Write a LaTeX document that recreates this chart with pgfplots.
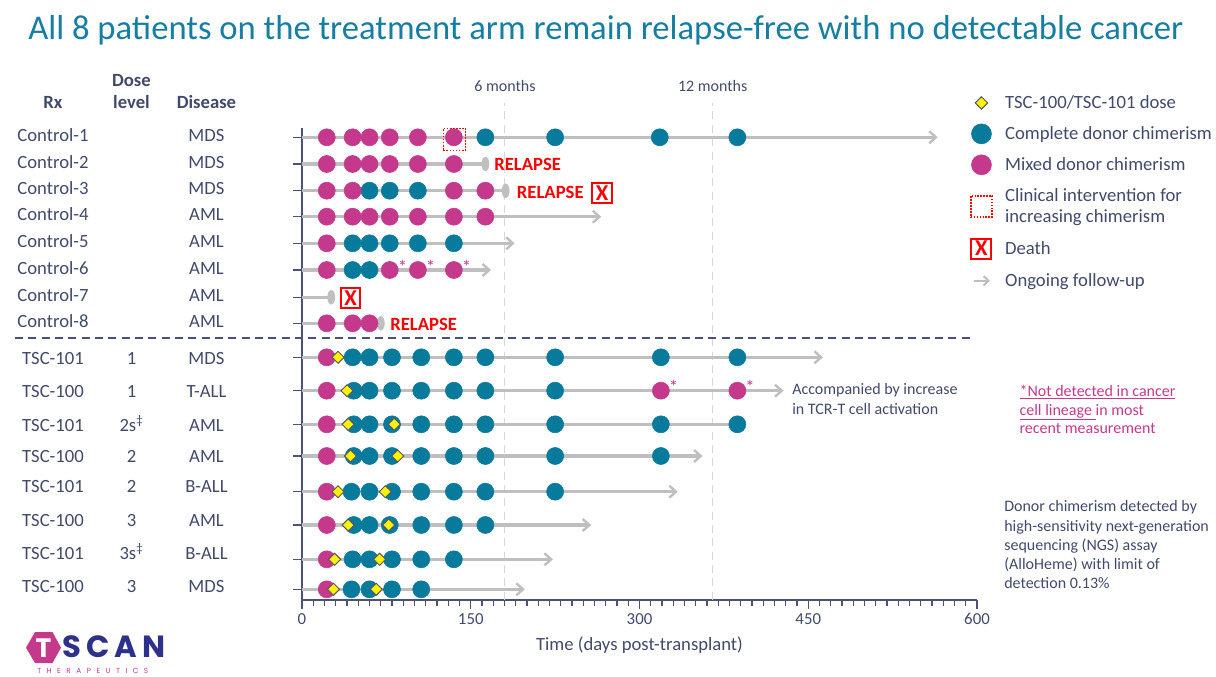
\documentclass[border=0pt]{standalone}
\usepackage{fontspec}
\setmainfont{Carlito}
\newfontfamily\logofont{Poppins}
\usepackage{pgfplots}
\pgfplotsset{compat=1.18}
\usetikzlibrary{arrows.meta}
\definecolor{tealc}{RGB}{8,122,156}
\definecolor{magc}{RGB}{196,57,139}
\definecolor{titlec}{RGB}{22,125,163}
\definecolor{textc}{RGB}{64,74,107}
\definecolor{axisc}{RGB}{76,82,115}
\definecolor{greyl}{RGB}{191,191,191}
\definecolor{dashg}{RGB}{215,215,215}
\definecolor{navyc}{RGB}{46,49,138}
\definecolor{diamd}{RGB}{85,85,105}
\newcommand\fbody{\fontsize{14pt}{16pt}\selectfont}
\newcommand\fsmall{\fontsize{12pt}{14.5pt}\selectfont}
\begin{document}
\color{textc}
\begin{tikzpicture}[x=0.75pt,y=-0.75pt]
\useasboundingbox (0,0) rectangle (1216,677);
\begin{axis}[
  at={(226.5pt,-449.625pt)}, anchor=south west,
  scale only axis, width=506.25pt, height=353.625pt,
  xmin=0, xmax=600, ymin=77.5, ymax=549,
  axis lines=left, axis line style={-, draw=axisc, line width=1.5pt},
  clip=false,
  xtick={0,150,300,450,600}, minor x tick num=14,
  ytick={539.7,513,486.3,460.3,433.7,407,379.7,353.7,319.7,286.3,252.7,221,185.3,152,117.7,87.7},
  yticklabels={},
  tick align=outside,
  major tick length=6.75pt, minor tick length=4.5pt,
  every tick/.style={draw=axisc, line width=1.1pt},
  tick label style={font=\fontsize{12.6pt}{14pt}\selectfont, text=textc},
  /pgf/number format/assume math mode=true,
  xlabel={Time (days post-transplant)},
  xlabel style={font=\fbody, text=textc, yshift=-2pt},
  legend cell align=left,
  legend style={at={(axis description cs:0.984,1.081)}, anchor=north west,
    draw=none, fill=none, font=\fbody, text=textc, row sep=8pt,
    cells={align=left}, nodes={inner ysep=2pt, inner xsep=9.5pt}},
]
% ---- legend ----
\addlegendimage{only marks, mark=square*, mark size=3.3pt, mark options={rotate=45, fill=yellow, draw=diamd, line width=0.7pt}}
\addlegendentry{TSC-100/TSC-101 dose}
\addlegendimage{only marks, mark=*, mark size=7.5pt, color=tealc}
\addlegendentry{Complete donor chimerism}
\addlegendimage{only marks, mark=*, mark size=7.5pt, color=magc}
\addlegendentry{Mixed donor chimerism}
\addlegendimage{only marks, mark=square, mark size=8pt, mark options={draw=red, line width=1.2pt, densely dotted}}
\addlegendentry{Clinical intervention for\\increasing chimerism}
\addlegendimage{legend image code/.code={\node[anchor=center, draw=red, fill=white, line width=1.5pt, text=red, font=\bfseries\fontsize{17pt}{17pt}\selectfont, inner sep=0pt, minimum size=15pt] at (0.3cm,0cm) {X};}}
\addlegendentry{Death}
\addlegendimage{legend image code/.code={\draw[greyl, line width=1.6pt, -{Straight Barb[length=3.5pt,width=7pt]}] (0.1cm,0cm) -- (0.52cm,0cm);}}
\addlegendentry{Ongoing follow-up}

% ---- reference lines ----
\addplot[forget plot, dashg, line width=1.2pt, dash pattern=on 6pt off 4pt] coordinates {(180,77.5) (180,574)};
\addplot[forget plot, dashg, line width=1.2pt, dash pattern=on 6pt off 4pt] coordinates {(365,77.5) (365,574)};
\addplot[forget plot, axisc, line width=1.3pt, dash pattern=on 6pt off 4pt] coordinates {(-255,339) (598,339)};

% ---- follow-up lines ----
\pgfplotsset{fu/.style={forget plot, greyl, line width=2.5pt, -{Straight Barb[length=5pt,width=9pt,line width=1.8pt]}},
             fl/.style={forget plot, greyl, line width=2.5pt}}
\addplot[fu] coordinates {(0,539.7) (565,539.7)};
\addplot[fl] coordinates {(0,513) (163,513)};
\addplot[fl] coordinates {(0,486.3) (181,486.3)};
\addplot[fu] coordinates {(0,460.3) (266,460.3)};
\addplot[fu] coordinates {(0,433.7) (189,433.7)};
\addplot[fu] coordinates {(0,407) (168,407)};
\addplot[fl] coordinates {(0,379.7) (26,379.7)};
\addplot[fl] coordinates {(0,353.7) (70,353.7)};
\addplot[fu] coordinates {(0,319.7) (463,319.7)};
\addplot[fu] coordinates {(0,286.3) (428,286.3)};
\addplot[fl] coordinates {(0,252.7) (387,252.7)};
\addplot[fu] coordinates {(0,221) (356,221)};
\addplot[fu] coordinates {(0,185.3) (334,185.3)};
\addplot[fu] coordinates {(0,152) (257,152)};
\addplot[fu] coordinates {(0,117.7) (223,117.7)};
\addplot[fu] coordinates {(0,87.7) (198,87.7)};

% ---- end-of-follow-up ovals ----
\addplot[forget plot, only marks, mark=*, mark size=5.2pt, color=greyl, mark options={xscale=0.52}] table {
x y
163 513
181 486.3
26 379.7
70 353.7
};

% ---- complete donor chimerism ----
\addplot[forget plot, only marks, mark=*, mark size=6.4pt, color=tealc] table {
x y
163 539.7
225 539.7
318 539.7
387 539.7
60 486.3
78 486.3
103 486.3
45 433.7
60 433.7
78 433.7
103 433.7
135 433.7
45 407
60 407
45 319.7
60 319.7
80 319.7
106 319.7
135 319.7
163 319.7
225 319.7
319 319.7
387 319.7
46 286.3
60 286.3
80 286.3
106 286.3
135 286.3
163 286.3
225 286.3
46 252.7
60 252.7
80 252.7
106 252.7
135 252.7
163 252.7
225 252.7
319 252.7
387 252.7
46 221
60 221
80 221
106 221
135 221
163 221
225 221
319 221
44 185.3
60 185.3
80 185.3
106 185.3
135 185.3
163 185.3
225 185.3
46 152
60 152
78 152
106 152
135 152
163 152
45 117.7
60 117.7
80 117.7
106 117.7
135 117.7
44 87.7
60 87.7
80 87.7
106 87.7
};

% ---- mixed donor chimerism ----
\addplot[forget plot, only marks, mark=*, mark size=6.4pt, color=magc] table {
x y
22 539.7
45 539.7
60 539.7
78 539.7
103 539.7
135 539.7
22 513
45 513
60 513
78 513
103 513
135 513
22 486.3
45 486.3
135 486.3
163 486.3
22 460.3
45 460.3
60 460.3
78 460.3
103 460.3
135 460.3
163 460.3
22 433.7
22 407
78 407
103 407
135 407
22 353.7
45 353.7
60 353.7
22 319.7
22 286.3
319 286.3
387 286.3
22 252.7
22 221
22 185.3
22 152
22 117.7
22 87.7
};

% ---- doses ----
\addplot[forget plot, only marks, mark=square*, mark size=3.2pt, mark options={rotate=45, fill=yellow, draw=diamd, line width=0.7pt}] table {
x y
32 319.7
40 286.3
41 252.7
82 252.7
43 221
85 221
32 185.3
74 185.3
41 152
77 152
29 117.7
69 117.7
28 87.7
66 87.7
};

% ---- not detected in cancer lineage ----
\addplot[forget plot, only marks, mark=none, nodes near coords={*}, nodes near coords align={center},
  every node near coord/.append style={xshift=9.5pt, yshift=2.5pt, text=magc, inner sep=0pt, font=\fontsize{14pt}{14pt}\selectfont}] table {
x y
78 407
103 407
135 407
319 286.3
387 286.3
};

% ---- clinical intervention ----
\addplot[forget plot, only marks, mark=square, mark size=8.3pt, mark options={draw=red, line width=1.3pt, densely dotted}] coordinates {(135.5,537.5)};

% ---- death ----
\addplot[forget plot, only marks, mark=none, nodes near coords={X}, nodes near coords align={center},
  every node near coord/.append style={draw=red, fill=white, line width=1.5pt, text=red, inner sep=0pt, minimum size=14.5pt, font=\bfseries\fontsize{17pt}{17pt}\selectfont}] coordinates {(266.7,484) (43.1,379)};
\end{axis}

% ---- title ----
\node[anchor=base west, inner sep=0pt, text=titlec, font=\fontsize{26pt}{30pt}\selectfont] at (28,40) {All 8 patients on the treatment arm remain relapse-free with no detectable cancer};

% ---- headers ----
\begin{scope}[every node/.style={inner sep=0pt, anchor=base, font=\bfseries\fbody, text=textc}]
\node at (53,108.5) {Rx};
\node at (131.5,86.5) {Dose};
\node at (131.5,108.5) {level};
\node at (206.5,108.5) {Disease};
\end{scope}

% ---- row labels ----
\begin{scope}[every node/.style={inner sep=0pt, anchor=base, font=\fbody, text=textc}]
\node at (53,141.7) {Control-1}; \node at (206.5,141.7) {MDS};
\node at (53,168.3) {Control-2}; \node at (206.5,168.3) {MDS};
\node at (53,195) {Control-3}; \node at (206.5,195) {MDS};
\node at (53,221) {Control-4}; \node at (206.5,221) {AML};
\node at (53,247.6) {Control-5}; \node at (206.5,247.6) {AML};
\node at (53,274.3) {Control-6}; \node at (206.5,274.3) {AML};
\node at (53,301.6) {Control-7}; \node at (206.5,301.6) {AML};
\node at (53,327.6) {Control-8}; \node at (206.5,327.6) {AML};
\node at (53,364) {TSC-101}; \node at (131.5,364) {1}; \node at (206.5,364) {MDS};
\node at (53,397.3) {TSC-100}; \node at (131.5,397.3) {1}; \node at (206.5,397.3) {T-ALL};
\node at (53,431.7) {TSC-101}; \node at (131.5,431.7) {2s\textsuperscript{‡}}; \node at (206.5,431.7) {AML};
\node at (53,462.7) {TSC-100}; \node at (131.5,462.7) {2}; \node at (206.5,462.7) {AML};
\node at (53,492.7) {TSC-101}; \node at (131.5,492.7) {2}; \node at (206.5,492.7) {B-ALL};
\node at (53,526) {TSC-100}; \node at (131.5,526) {3}; \node at (206.5,526) {AML};
\node at (53,559.3) {TSC-101}; \node at (131.5,559.3) {3s\textsuperscript{‡}}; \node at (206.5,559.3) {B-ALL};
\node at (53,592.7) {TSC-100}; \node at (131.5,592.7) {3}; \node at (206.5,592.7) {MDS};
\end{scope}

% ---- annotations ----
\begin{scope}[every node/.style={inner sep=0pt, anchor=base, font=\fsmall, text=textc}]
\node at (505,91.7) {6 months};
\node at (712.7,91.7) {12 months};
\end{scope}
\begin{scope}[every node/.style={inner sep=0pt, anchor=base west, font=\bfseries\fbody, text=red}]
\node at (494,170.7) {RELAPSE};
\node at (516.7,198.3) {RELAPSE};
\node at (390,330) {RELAPSE};
\end{scope}
\begin{scope}[every node/.style={inner sep=0pt, anchor=base west, font=\fsmall, text=textc}]
\node at (792,394.3) {Accompanied by increase};
\node at (792,414) {in TCR-T cell activation};
\node at (1004,511.7) {Donor chimerism detected by};
\node at (1004,531) {high-sensitivity next-generation};
\node at (1004,550) {sequencing (NGS) assay};
\node at (1004,569) {(AlloHeme) with limit of};
\node at (1004,588.3) {detection 0.13\%};
\end{scope}
\begin{scope}[every node/.style={inner sep=0pt, anchor=base west, font=\fsmall, text=magc}]
\node at (1019.3,396) {\underline{*Not detected in cancer}};
\node at (1019.3,415) {\underline{cell lineage }in most};
\node at (1019.3,433.3) {recent measurement};
\end{scope}

% ---- logo ----
\fill[magc] (26,647.7) -- (35,632) -- (52.5,632) -- (61,647.7) -- (52.5,663) -- (35,663) -- cycle;
\node[inner sep=0pt, text=white, font=\logofont\bfseries\fontsize{20pt}{20pt}\selectfont] at (43.5,648) {T};
\node[inner sep=0pt, anchor=base west, text=navyc, font=\logofont\bfseries\fontsize{23pt}{23pt}\selectfont] at (62,657) {S\,C\,A\,N};
\node[inner sep=0pt, anchor=base west, text=magc, font=\logofont\fontsize{5.5pt}{6pt}\selectfont] at (37,673.5) {T\hspace{4.1pt}H\hspace{4.1pt}E\hspace{4.1pt}R\hspace{4.1pt}A\hspace{4.1pt}P\hspace{4.1pt}E\hspace{4.1pt}U\hspace{4.1pt}T\hspace{4.1pt}I\hspace{4.1pt}C\hspace{4.1pt}S};
\end{tikzpicture}
\end{document}
